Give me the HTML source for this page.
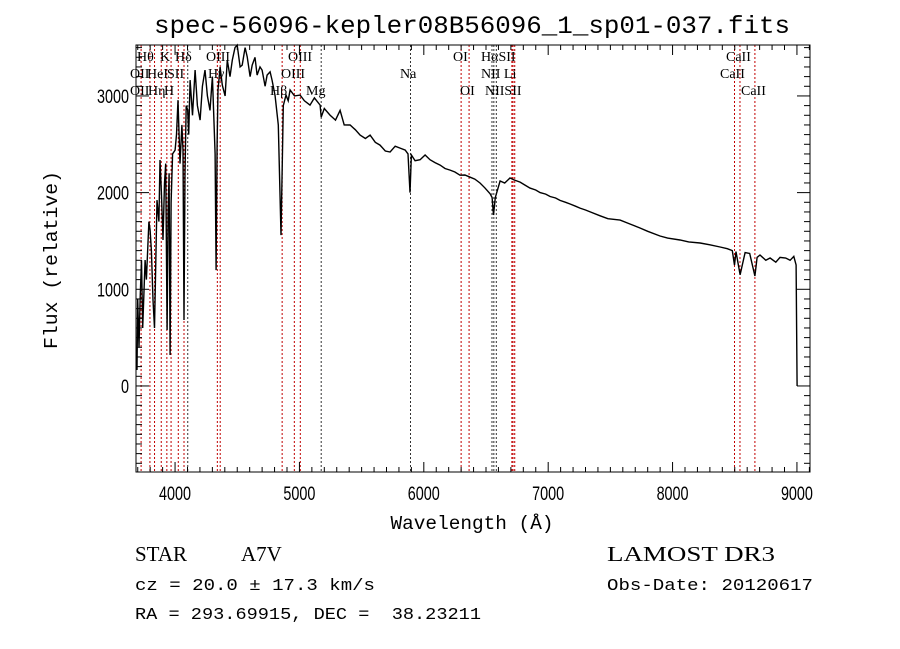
<!DOCTYPE html>
<html><head><meta charset="utf-8"><style>
body{margin:0;background:#fff;}
svg{display:block;}
text{fill:#000;}
</style></head><body>
<svg id="chart" width="900" height="649" xmlns="http://www.w3.org/2000/svg">
<rect width="900" height="649" fill="#fff"/>
<text x="472" y="33" text-anchor="middle" font-family="Liberation Mono, monospace" font-size="25" textLength="636" lengthAdjust="spacingAndGlyphs">spec-56096-kepler08B56096_1_sp01-037.fits</text>
<g id="lines"></g>
<g id="labels"></g>
<g id="ticks"></g>
<path id="spec" fill="none" stroke="#000" stroke-width="1.4"/>
<rect x="136" y="45" width="674" height="427" fill="none" stroke="#000" stroke-width="1"/>
<text transform="translate(57,260) rotate(-90)" text-anchor="middle" font-family="Liberation Mono, monospace" font-size="19" textLength="178" lengthAdjust="spacingAndGlyphs">Flux (relative)</text>
<text x="472" y="529" text-anchor="middle" font-family="Liberation Mono, monospace" font-size="19" textLength="163" lengthAdjust="spacingAndGlyphs">Wavelength (Å)</text>
<text x="135" y="561" font-family="Liberation Serif, serif" font-size="21">STAR</text>
<text x="241" y="561" font-family="Liberation Serif, serif" font-size="21">A7V</text>
<text x="607" y="561" font-family="Liberation Serif, serif" font-size="21" textLength="168" lengthAdjust="spacingAndGlyphs">LAMOST DR3</text>
<text x="135" y="590" font-family="Liberation Mono, monospace" font-size="17" textLength="240" lengthAdjust="spacingAndGlyphs">cz = 20.0 ± 17.3 km/s</text>
<text x="607" y="590" font-family="Liberation Mono, monospace" font-size="17" textLength="206" lengthAdjust="spacingAndGlyphs">Obs-Date: 20120617</text>
<text x="135" y="619" font-family="Liberation Mono, monospace" font-size="17" textLength="346" lengthAdjust="spacingAndGlyphs" xml:space="preserve" style="white-space:pre">RA = 293.69915, DEC =  38.23211</text>
</svg>
<script>
const waves = [
3694,3700,3710,3719,3730,3740,3759,3770,3790,3799,
3810,3823,3835,3855,3870,3879,3890,3903,3915,3925,
3936,3944,3952,3960,3968,3980,4000,4012,4024,4040,
4055,4064,4072,4080,4090,4102,4110,4121,4140,4161,
4180,4201,4220,4241,4260,4281,4300,4322,4330,4338,
4345,4362,4380,4402,4420,4442,4460,4482,4500,4523,
4540,4563,4580,4603,4620,4643,4660,4683,4700,4724,
4740,4764,4780,4804,4830,4852,4861,4870,4892,4910,
4925,4960,5005,5040,5085,5120,5166,5175,5200,5246,
5290,5327,5360,5407,5450,5488,5530,5568,5610,5648,
5690,5729,5770,5809,5850,5873,5889,5900,5930,5970,
6010,6050,6090,6131,6170,6211,6250,6291,6330,6372,
6410,6452,6490,6532,6549,6560,6575,6613,6650,6693,
6730,6774,6810,6854,6900,6935,6980,7015,7060,7095,
7140,7176,7220,7256,7300,7340,7417,7480,7578,7650,
7738,7800,7899,7960,8060,8130,8221,8300,8382,8440,
8480,8498,8510,8543,8583,8620,8662,8680,8703,8750,
8784,8830,8864,8910,8945,8975,8993,9001];
const fluxes = [
165,900,400,889,1300,600,1303,1100,1700,1613,
1400,889,600,1923,1700,2337,2000,1510,2100,2300,
579,1800,2200,320,1900,2400,2440,2600,2957,2300,
2700,2440,682,2200,2900,2854,2600,3164,2800,3267,
2900,2750,3100,3267,3000,2850,3200,2400,1199,2500,
3061,3300,3112,3000,3371,3200,3371,3500,3526,3300,
3319,3500,3406,3200,3319,3400,3216,3300,3267,3100,
3216,3250,3161,3000,2700,1561,2200,2900,3009,2950,
3061,3000,3009,2950,2905,2980,2905,2780,2870,2802,
2750,2850,2700,2699,2650,2595,2560,2595,2520,2492,
2430,2420,2480,2461,2440,2400,2000,2389,2330,2340,
2389,2340,2310,2285,2250,2233,2213,2180,2182,2160,
2140,2100,2050,1990,1950,1768,1950,2120,2100,2151,
2130,2109,2080,2047,2027,2000,1985,1960,1944,1920,
1900,1882,1860,1840,1820,1799,1760,1730,1716,1680,
1634,1600,1551,1530,1510,1490,1479,1460,1437,1420,
1400,1250,1390,1150,1380,1370,1137,1330,1355,1300,
1324,1280,1330,1324,1300,1340,1251,0];
const lineWaves = [3727,3798,3835,3889,3934,3968,4026,4072,4102,4340,4363,4861,4959,5007,5175,5893,6300,6364,6548,6563,6583,6708,6717,6731,8498,8542,8662];
const lineBlack = [0,0,0,0,0,0,0,0,1,0,0,0,0,0,1,1,0,0,1,1,1,0,0,0,0,0,0];
const xTicks = [4000,5000,6000,7000,8000,9000];
const yTicks = [0,1000,2000,3000];
const X0=136,X1=810,Y0=45,Y1=472,WMIN=3686,WMAX=9105,FMIN=-890,FMAX=3527;
const NS='http://www.w3.org/2000/svg';
function xs(w){return X0+(w-WMIN)/(WMAX-WMIN)*(X1-X0);}
function ys(f){return Y1-(f-FMIN)/(FMAX-FMIN)*(Y1-Y0);}
function mk(tag,attrs,parent){const e=document.createElementNS(NS,tag);for(const k in attrs)e.setAttribute(k,attrs[k]);parent.appendChild(e);return e;}
const lg=document.getElementById('lines');
lineWaves.forEach((w,i)=>{
  const l=mk('line',{x1:xs(w),x2:xs(w),y1:Y0,y2:Y1,stroke:lineBlack[i]?'#333':'#c00000','stroke-width':1,'stroke-dasharray':'2,2'},lg);
  
  
});
const labs=[["Hθ",137,61],["K",160,61],["Hδ",175,61],["OIII",206,61],["OIII",288,61],["OII",130,78],["HeI",147,78],["SII",167,78],["Hγ",208,78],["OIII",281,78],["OII",130,95],["Hη",148,95],["H",164,95],["Hβ",270,95],["Mg",306,95],["OI",453,61],["HαSII",481,61],["Na",400,78],["NII Li",481,78],["CaII",726,61],["CaII",720,78],["OI",460,95],["NIISII",485,95],["CaII",741,95]];
const lb=document.getElementById('labels');
labs.forEach(a=>{const t=mk('text',{x:a[1],y:a[2],'font-family':'Liberation Serif, serif','font-size':14},lb);t.textContent=a[0];
  
  });
const tg=document.getElementById('ticks');
for(let w=3700;w<=9100;w+=100){const x=xs(w);const maj=w%1000===0;const L=maj?10:5;
  mk('line',{x1:x,x2:x,y1:Y1,y2:Y1-L,stroke:'#000'},tg);mk('line',{x1:x,x2:x,y1:Y0,y2:Y0+L,stroke:'#000'},tg);}
for(let f=-800;f<=3500;f+=100){const y=ys(f);const maj=f%1000===0;const L=maj?13:6;
  mk('line',{x1:X0,x2:X0+L,y1:y,y2:y,stroke:'#000'},tg);mk('line',{x1:X1,x2:X1-L,y1:y,y2:y,stroke:'#000'},tg);}
xTicks.forEach(v=>{const t=mk('text',{x:xs(v),y:Y1+28,'text-anchor':'middle','font-family':'Liberation Sans, sans-serif','font-size':19,textLength:32,lengthAdjust:'spacingAndGlyphs'},tg);t.textContent=v;
  
  });
yTicks.forEach(v=>{const s=String(v);const t=mk('text',{x:129,y:ys(v)+7,'text-anchor':'end','font-family':'Liberation Sans, sans-serif','font-size':19,textLength:8*s.length,lengthAdjust:'spacingAndGlyphs'},tg);t.textContent=s;
  
  });
let d='';waves.forEach((w,i)=>{d+=(i?'L':'M')+xs(w).toFixed(1)+','+ys(fluxes[i]).toFixed(1);});
document.getElementById('spec').setAttribute('d',d);
</script>
</body></html>
